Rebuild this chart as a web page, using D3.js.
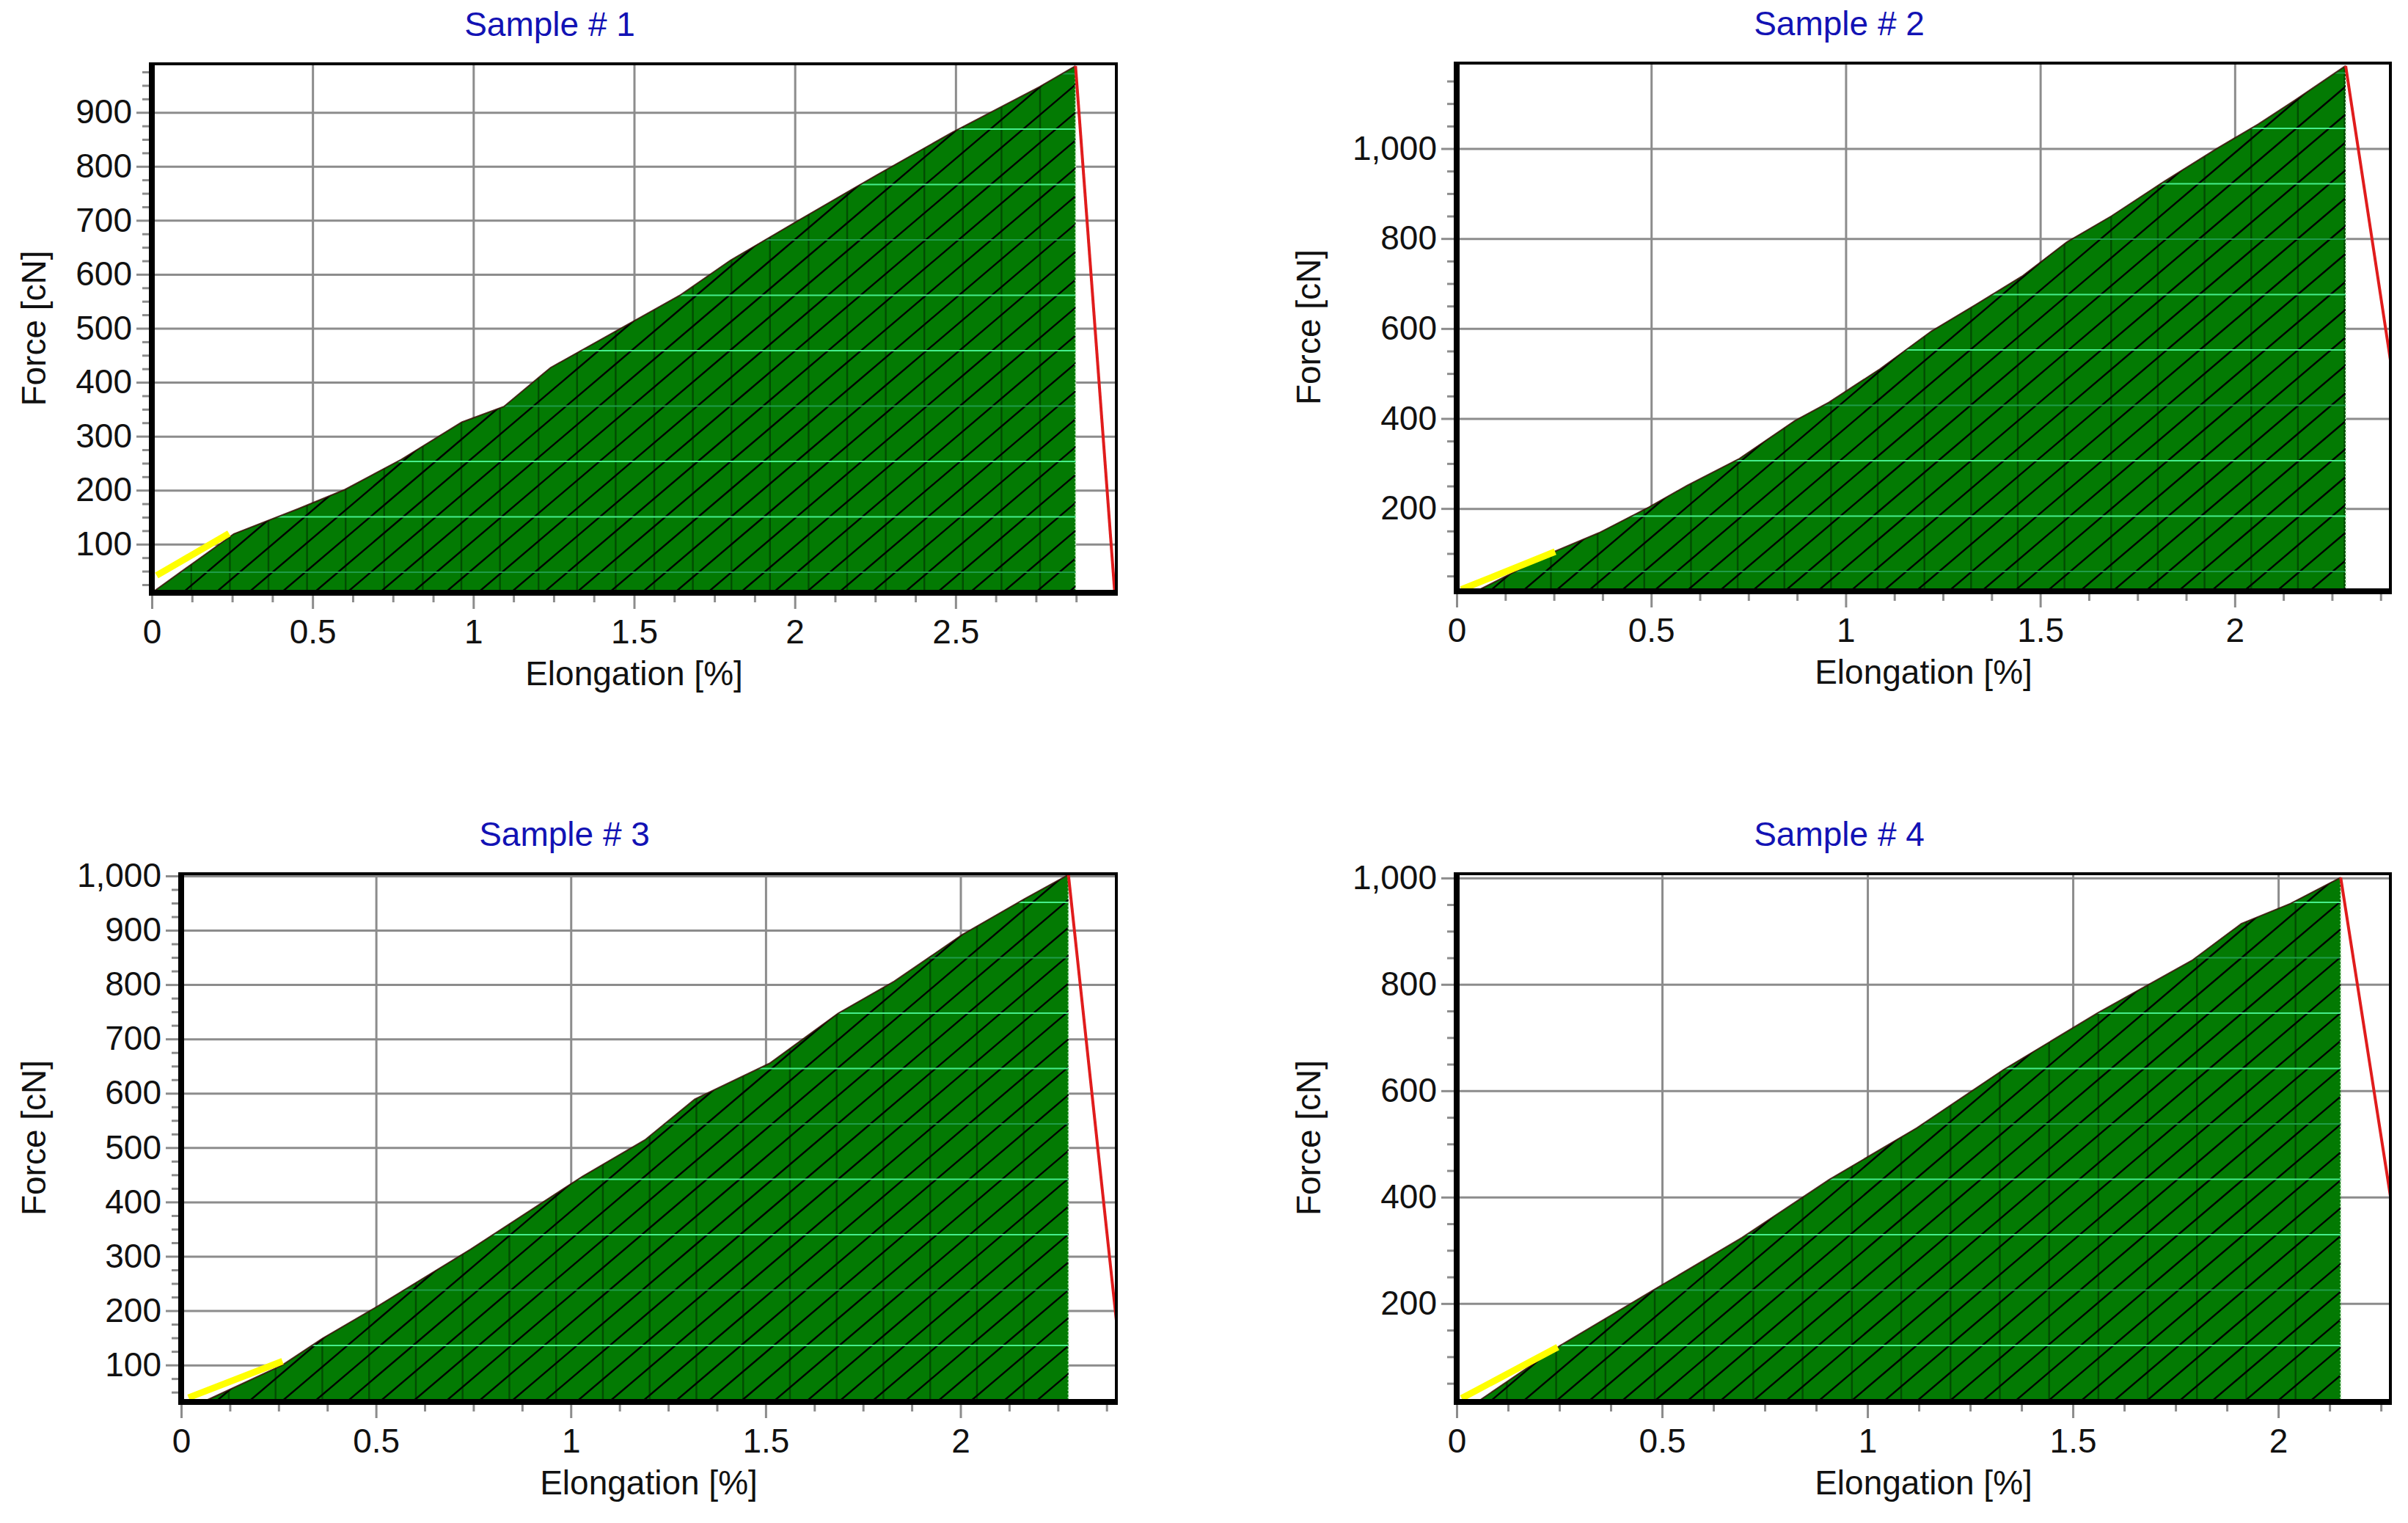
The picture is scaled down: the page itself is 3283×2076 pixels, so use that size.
<!DOCTYPE html>
<html>
<head>
<meta charset="utf-8">
<script src="https://cdn.jsdelivr.net/npm/d3@7"></script>
<style>
  body { margin: 0; background: #fff; }
  svg { display: block; }
</style>
</head>
<body>
<svg id="chart" width="3283" height="2076"></svg>
<script>
'use strict';
// tensile test curves, four yarn samples: elongation [%] vs force [cN]

const sampleNames = ['Sample # 1', 'Sample # 2', 'Sample # 3', 'Sample # 4'];

// measured curve up to the break point
const s1Elong = [0, 0.255, 0.457, 0.6, 0.776, 0.964, 1.095, 1.24, 1.645, 1.8, 2.0, 2.255, 2.49, 2.76, 2.873];
const s1Force = [10, 119, 166, 201, 257, 326, 355, 427, 562, 626, 696, 784, 863, 947, 986];
const s2Elong = [0.05, 0.253, 0.366, 0.494, 0.592, 0.727, 0.869, 0.957, 1.088, 1.22, 1.334, 1.453, 1.568, 1.683, 1.817, 1.952, 2.06, 2.154, 2.285];
const s2Force = [16, 105, 146, 203, 251, 311, 395, 436, 510, 594, 653, 716, 792, 850, 926, 999, 1054, 1107, 1184];
const s3Elong = [0.056, 0.26, 0.363, 0.504, 0.743, 1.03, 1.19, 1.318, 1.51, 1.686, 1.83, 2.005, 2.165, 2.277];
const s3Force = [32, 100, 149, 208, 313, 447, 514, 589, 655, 747, 806, 892, 958, 1002];
const s4Elong = [0.05, 0.252, 0.498, 0.695, 0.907, 1.12, 1.33, 1.56, 1.79, 1.91, 2.03, 2.152];
const s4Force = [15, 121, 234, 324, 433, 530, 639, 746, 845, 914, 952, 1001];

// drop after rupture (red)
const s1BreakElong = [2.873, 2.995];
const s1BreakForce = [986, 10];
const s2BreakElong = [2.285, 2.4];
const s2BreakForce = [1184, 530];
const s3BreakElong = [2.277, 2.4];
const s3BreakForce = [1002, 182];
const s4BreakElong = [2.152, 2.273];
const s4BreakForce = [1001, 402];

// modulus segment (yellow)
const s1SlopeElong = [0.015, 0.24];
const s1SlopeForce = [42, 120];
const s2SlopeElong = [0.012, 0.253];
const s2SlopeForce = [20, 104];
const s3SlopeElong = [0.019, 0.26];
const s3SlopeForce = [40, 107];
const s4SlopeElong = [0.012, 0.246];
const s4SlopeForce = [22, 118];

// axes
const xMaxes = [3, 2.4, 2.4, 2.273];
const yMins = [10, 16, 32, 15];
const yMaxes = [990, 1190, 1004, 1008];
const xMajor1 = [0, 0.5, 1, 1.5, 2, 2.5];
const xMajor234 = [0, 0.5, 1, 1.5, 2];
const yMajor1 = [100, 200, 300, 400, 500, 600, 700, 800, 900];
const yMajor2 = [200, 400, 600, 800, 1000];
const yMajor3 = [100, 200, 300, 400, 500, 600, 700, 800, 900, 1000];
const yMajor4 = [200, 400, 600, 800, 1000];
const yMinorSteps = [25, 50, 25, 50];
const xMinorStep = 0.125;
const xLabel = 'Elongation [%]';
const yLabel = 'Force [cN]';

const samples = [
  { elong: s1Elong, force: s1Force, bE: s1BreakElong, bF: s1BreakForce, mE: s1SlopeElong, mF: s1SlopeForce, xMajor: xMajor1, yMajor: yMajor1 },
  { elong: s2Elong, force: s2Force, bE: s2BreakElong, bF: s2BreakForce, mE: s2SlopeElong, mF: s2SlopeForce, xMajor: xMajor234, yMajor: yMajor2 },
  { elong: s3Elong, force: s3Force, bE: s3BreakElong, bF: s3BreakForce, mE: s3SlopeElong, mF: s3SlopeForce, xMajor: xMajor234, yMajor: yMajor3 },
  { elong: s4Elong, force: s4Force, bE: s4BreakElong, bF: s4BreakForce, mE: s4SlopeElong, mF: s4SlopeForce, xMajor: xMajor234, yMajor: yMajor4 },
];

// plot boxes in page pixels
const layout = [
  { left: 207, right: 1522, top: 87, bottom: 808, ylabOff: 145, hatchOff: 28, faintPhase: 0 },
  { left: 1986, right: 3259, top: 86, bottom: 806, ylabOff: 186, hatchOff: 27, faintPhase: 0 },
  { left: 247, right: 1522, top: 1191, bottom: 1911, ylabOff: 185, hatchOff: 77, faintPhase: 1 },
  { left: 1986, right: 3259, top: 1191, bottom: 1911, ylabOff: 186, hatchOff: 77, faintPhase: 1 },
];

const FONT = '"Liberation Sans", Arial, Helvetica, sans-serif';
const gridColor = '#8c8c8c';
const bandH = 75.5;      // spacing of the light bands in the fill
const hatchGap = 38;     // vertical gap between hatch lines
const hatchSlope = 0.85;

const svg = d3.select('#chart');
svg.append('rect').attr('width', 3283).attr('height', 2076).attr('fill', '#fff');
const defs = svg.append('defs');

const styleAxis = (g) => {
  g.attr('font-family', FONT).attr('font-size', 46);
  g.select('.domain').remove();
  g.selectAll('.tick line').attr('stroke', gridColor).attr('stroke-width', 3);
  g.selectAll('.tick text').attr('fill', '#111');
};

samples.forEach((s, i) => {
  const L = layout[i];
  const x = d3.scaleLinear().domain([0, xMaxes[i]]).range([L.left, L.right]);
  const y = d3.scaleLinear().domain([yMins[i], yMaxes[i]]).range([L.bottom, L.top]);
  const w = L.right - L.left;
  const h = L.bottom - L.top;

  const yMinor = d3.range(Math.ceil(yMins[i] / yMinorSteps[i]) * yMinorSteps[i], yMaxes[i], yMinorSteps[i])
    .filter((v) => !s.yMajor.includes(v));
  const xMinor = d3.range(xMinorStep, xMaxes[i] - 0.01, xMinorStep)
    .filter((v) => Math.abs(v / 0.5 - Math.round(v / 0.5)) > 1e-6);

  const panel = svg.append('g');

  // grid
  panel.append('g')
    .attr('transform', `translate(${L.left},0)`)
    .call(d3.axisLeft(y).tickValues(s.yMajor).tickSize(-w).tickFormat(''))
    .call(styleAxis);
  panel.append('g')
    .attr('transform', `translate(0,${L.bottom})`)
    .call(d3.axisBottom(x).tickValues(s.xMajor).tickSize(-h).tickFormat(''))
    .call(styleAxis);

  // ticks and labels
  panel.append('g')
    .attr('transform', `translate(${L.left},0)`)
    .call(d3.axisLeft(y).tickValues(s.yMajor).tickSize(21).tickPadding(6).tickFormat(d3.format(',')))
    .call(styleAxis);
  panel.append('g')
    .attr('transform', `translate(${L.left},0)`)
    .call(d3.axisLeft(y).tickValues(yMinor).tickSize(13).tickFormat(''))
    .call(styleAxis);
  panel.append('g')
    .attr('transform', `translate(0,${L.bottom})`)
    .call(d3.axisBottom(x).tickValues(s.xMajor).tickSize(22).tickPadding(14).tickFormat((d) => String(d)))
    .call(styleAxis);
  panel.append('g')
    .attr('transform', `translate(0,${L.bottom})`)
    .call(d3.axisBottom(x).tickValues(xMinor).tickSize(13).tickFormat(''))
    .call(styleAxis);

  // area under the curve, hatched
  const pts = d3.zip(s.elong, s.force);
  const peak = pts[pts.length - 1];
  const areaD = d3.area().x((d) => x(d[0])).y0(y(yMins[i])).y1((d) => y(d[1]))(pts);

  defs.append('clipPath').attr('id', `clip${i}`).append('path').attr('d', areaD);
  const fill = panel.append('g').attr('clip-path', `url(#clip${i})`);
  fill.append('rect')
    .attr('x', L.left).attr('y', L.top).attr('width', w).attr('height', h)
    .attr('fill', '#037a03');

  const seamW = x(0.12) - x(0);
  fill.selectAll('line.seam')
    .data(d3.range(0, Math.ceil(w / seamW)))
    .join('line')
    .attr('class', 'seam')
    .attr('x1', (j) => L.left + j * seamW + 1.2).attr('x2', (j) => L.left + j * seamW + 1.2)
    .attr('y1', L.top).attr('y2', L.bottom)
    .attr('stroke', '#024c02').attr('stroke-width', 2.4);

  const rise = hatchSlope * w;
  fill.selectAll('line.diag')
    .data(d3.range(0, Math.ceil((h + rise) / hatchGap) + 1))
    .join('line')
    .attr('class', 'diag')
    .attr('x1', L.left).attr('y1', (k) => L.bottom + 20 - k * hatchGap + rise)
    .attr('x2', L.right).attr('y2', (k) => L.bottom + 20 - k * hatchGap)
    .attr('stroke', '#000').attr('stroke-width', 2.4);

  fill.selectAll('line.band')
    .data(d3.range(0, Math.floor((h - L.hatchOff) / bandH) + 1))
    .join('line')
    .attr('class', 'band')
    .attr('x1', L.left).attr('x2', L.right)
    .attr('y1', (k) => L.bottom - L.hatchOff - k * bandH).attr('y2', (k) => L.bottom - L.hatchOff - k * bandH)
    .attr('stroke', (k) => (k % 3 === L.faintPhase ? '#1f9c4a' : '#46ee8c'))
    .attr('stroke-width', 2.2);

  panel.append('line')
    .attr('x1', x(peak[0])).attr('x2', x(peak[0]))
    .attr('y1', y(yMins[i])).attr('y2', y(peak[1]))
    .attr('stroke', '#b8e6b8').attr('stroke-width', 2).attr('stroke-dasharray', '2,3');

  panel.append('path')
    .datum(pts)
    .attr('d', d3.line().x((d) => x(d[0])).y((d) => y(d[1])))
    .attr('fill', 'none').attr('stroke', '#3a0e06').attr('stroke-width', 2).attr('stroke-opacity', 0.85);

  panel.append('path')
    .datum(d3.zip(s.mE, s.mF))
    .attr('d', d3.line().x((d) => x(d[0])).y((d) => y(d[1])))
    .attr('fill', 'none').attr('stroke', '#ffff00').attr('stroke-width', 9);

  panel.append('path')
    .datum(d3.zip(s.bE, s.bF))
    .attr('d', d3.line().x((d) => x(d[0])).y((d) => y(d[1])))
    .attr('fill', 'none').attr('stroke', '#e01c1c').attr('stroke-width', 4);

  // frame: thin top/right, heavy left/bottom
  panel.append('line')
    .attr('x1', L.left).attr('x2', L.right + 2).attr('y1', L.top).attr('y2', L.top)
    .attr('stroke', '#000').attr('stroke-width', 4);
  panel.append('line')
    .attr('x1', L.right).attr('x2', L.right).attr('y1', L.top).attr('y2', L.bottom)
    .attr('stroke', '#000').attr('stroke-width', 4);
  panel.append('line')
    .attr('x1', L.left).attr('x2', L.left).attr('y1', L.top - 2).attr('y2', L.bottom + 4)
    .attr('stroke', '#000').attr('stroke-width', 8);
  panel.append('line')
    .attr('x1', L.left - 4).attr('x2', L.right + 2).attr('y1', L.bottom).attr('y2', L.bottom)
    .attr('stroke', '#000').attr('stroke-width', 8);

  // titles
  panel.append('text')
    .attr('x', (L.left + L.right) / 2 - 115)
    .attr('y', L.top - 38)
    .attr('text-anchor', 'middle')
    .attr('font-family', FONT).attr('font-size', 46)
    .attr('fill', '#1212b4')
    .text(sampleNames[i]);
  panel.append('text')
    .attr('x', (L.left + L.right) / 2)
    .attr('y', L.bottom + 126)
    .attr('text-anchor', 'middle')
    .attr('font-family', FONT).attr('font-size', 46)
    .attr('fill', '#111')
    .text(xLabel);
  panel.append('text')
    .attr('transform', `translate(${L.left - L.ylabOff},${(L.top + L.bottom) / 2}) rotate(-90)`)
    .attr('text-anchor', 'middle')
    .attr('font-family', FONT).attr('font-size', 46)
    .attr('fill', '#111')
    .text(yLabel);
});
</script>
</body>
</html>
